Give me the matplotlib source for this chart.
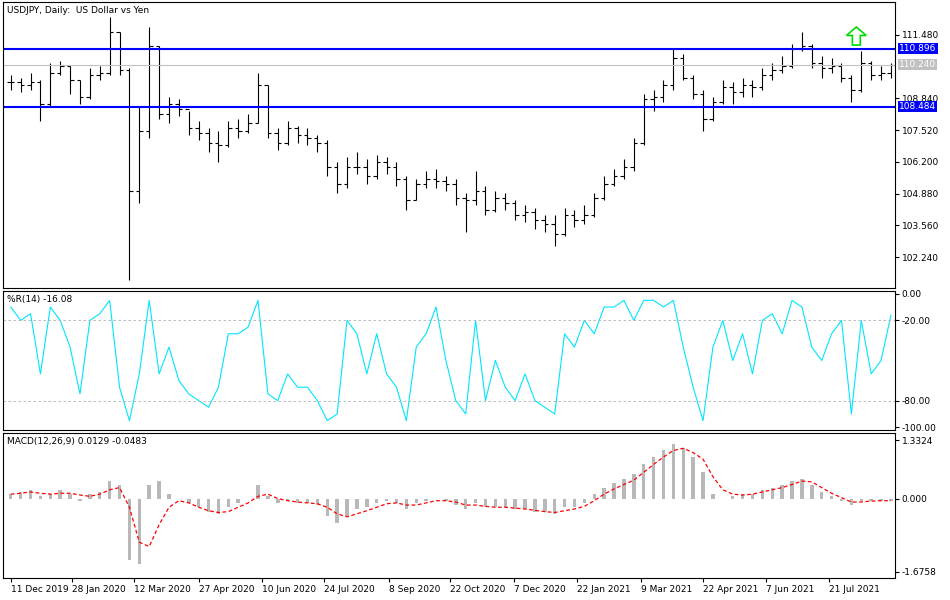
import matplotlib
matplotlib.use("Agg")
import matplotlib.pyplot as plt
from matplotlib.patches import FancyArrow

closes = [109.5,109.4,109.5,108.6,109.9,110.2,109.6,108.9,109.8,109.9,
          111.6,110.0,105.0,107.5,111.0,108.2,108.6,108.4,107.6,107.4,
          107.0,106.9,107.6,107.5,107.8,109.4,107.4,107.0,107.6,107.3,
          107.2,107.0,106.0,105.3,106.0,106.0,105.6,106.2,106.0,105.5,
          104.6,105.3,105.5,105.4,105.3,104.7,104.6,105.0,104.2,104.7,
          104.5,104.0,104.1,103.8,103.6,103.2,104.0,103.8,104.0,104.7,
          105.3,105.6,106.0,107.0,108.8,108.9,109.4,110.5,109.7,109.0,
          108.0,108.7,109.3,109.1,109.4,109.3,109.8,110.0,110.2,110.9,
          111.0,110.3,110.1,110.2,109.7,109.2,110.3,109.8,109.9,110.24]
highs = [109.8,109.7,109.9,109.6,110.3,110.4,110.2,109.6,110.1,110.2,
         112.2,111.6,110.1,108.5,111.8,111.0,108.9,108.8,108.3,107.9,
         107.6,107.5,107.9,108.0,108.2,109.9,109.4,107.6,107.9,107.7,
         107.6,107.3,107.1,106.2,106.4,106.6,106.3,106.5,106.4,106.2,
         105.6,105.5,105.8,105.9,105.6,105.5,104.9,105.8,105.2,105.0,
         104.9,104.6,104.4,104.3,104.0,104.0,104.3,104.2,104.4,104.9,
         105.6,105.9,106.3,107.2,109.0,109.2,109.6,110.9,110.7,109.8,
         109.2,108.9,109.6,109.5,109.7,109.6,110.1,110.3,110.6,111.1,
         111.6,111.1,110.6,110.5,110.3,109.8,110.8,110.4,110.2,110.3]
lows = [109.2,109.1,109.2,107.9,108.5,109.8,109.0,108.6,108.8,109.6,
        109.8,109.8,101.3,104.5,107.2,108.0,107.8,108.1,107.3,107.1,
        106.6,106.2,106.8,107.2,107.4,107.8,107.2,106.7,106.9,107.0,
        106.9,106.6,105.6,104.9,105.1,105.7,105.3,105.5,105.7,105.2,
        104.2,104.6,105.1,105.1,105.0,104.4,103.3,104.4,104.0,104.1,
        104.2,103.8,103.7,103.4,103.3,102.7,103.1,103.5,103.6,103.9,
        104.6,105.2,105.5,105.8,106.9,108.3,108.7,109.2,109.6,108.8,
        107.5,107.9,108.6,108.6,108.9,108.9,109.2,109.6,109.9,110.1,
        110.8,110.1,109.7,109.9,109.5,108.7,109.1,109.6,109.6,109.7]
wpr = [-10,-20,-15,-60,-10,-20,-40,-75,-20,-15,-5,-70,-95,-60,-5,-60,-40,-65,-75,-80,
       -85,-70,-30,-30,-25,-5,-75,-80,-60,-70,-70,-80,-95,-90,-20,-30,-60,-30,-60,-70,
       -95,-40,-30,-10,-50,-80,-90,-20,-80,-50,-70,-80,-60,-80,-85,-90,-30,-40,-20,-30,
       -10,-10,-5,-20,-5,-5,-10,-5,-40,-70,-95,-40,-20,-50,-30,-60,-20,-15,-30,-5,
       -10,-40,-50,-30,-20,-90,-20,-60,-50,-16.08]
macd_hist = [0.10,0.15,0.20,0.05,0.10,0.20,0.10,-0.05,0.10,0.15,
             0.40,0.30,-1.40,-1.50,0.30,0.40,0.10,0.00,-0.10,-0.20,
             -0.30,-0.35,-0.20,-0.10,0.00,0.30,0.05,-0.10,-0.05,-0.10,
             -0.10,-0.15,-0.40,-0.55,-0.40,-0.25,-0.20,-0.10,-0.05,-0.10,
             -0.25,-0.10,-0.05,0.00,-0.05,-0.15,-0.25,-0.10,-0.20,-0.20,
             -0.20,-0.25,-0.25,-0.30,-0.30,-0.35,-0.20,-0.20,-0.10,0.10,
             0.25,0.35,0.45,0.55,0.80,0.95,1.10,1.25,1.15,0.95,
             0.60,0.10,0.00,0.05,0.10,0.10,0.20,0.25,0.30,0.40,
             0.45,0.30,0.15,0.05,-0.05,-0.15,-0.05,-0.05,-0.05,-0.05]
macd_sig = [0.10,0.12,0.15,0.12,0.10,0.12,0.12,0.08,0.05,0.10,
            0.20,0.25,-0.20,-1.00,-1.10,-0.60,-0.20,-0.05,-0.10,-0.20,
            -0.28,-0.32,-0.30,-0.20,-0.10,0.05,0.10,0.00,-0.05,-0.08,
            -0.10,-0.12,-0.20,-0.35,-0.42,-0.35,-0.28,-0.20,-0.12,-0.10,
            -0.15,-0.15,-0.10,-0.05,-0.05,-0.08,-0.15,-0.15,-0.18,-0.20,
            -0.20,-0.22,-0.24,-0.27,-0.30,-0.32,-0.28,-0.24,-0.18,-0.05,
            0.10,0.22,0.32,0.42,0.60,0.78,0.95,1.10,1.15,1.05,
            0.90,0.50,0.20,0.10,0.08,0.10,0.15,0.20,0.25,0.32,
            0.40,0.38,0.25,0.12,0.02,-0.08,-0.08,-0.06,-0.05,-0.05]
date_labels = ["11 Dec 2019","28 Jan 2020","12 Mar 2020","27 Apr 2020","10 Jun 2020",
               "24 Jul 2020","8 Sep 2020","22 Oct 2020","7 Dec 2020","22 Jan 2021",
               "9 Mar 2021","22 Apr 2021","7 Jun 2021","21 Jul 2021"]
date_pos = [0,6.2,12.5,19,25.4,31.7,38.2,44.4,50.9,57.3,63.7,70,76.4,82.7]
levels = [110.896, 108.484]
last_price = 110.24

fig = plt.figure(figsize=(9.5, 6), dpi=100)
fs = 6.5
ax1 = fig.add_axes([0.003, 1-288/600, 0.939, 286/600])
ax2 = fig.add_axes([0.003, 1-430/600, 0.939, 139/600])
ax3 = fig.add_axes([0.003, 1-578/600, 0.939, 145/600])
xl = (-0.8, 89.4)
for ax in (ax1, ax2, ax3):
    ax.set_xlim(*xl)
    ax.yaxis.tick_right()
    ax.tick_params(labelsize=fs, length=3, pad=2)
    for s in ax.spines.values():
        s.set_color("black"); s.set_linewidth(0.8)

n = len(closes)
opens = [closes[0]] + closes[:-1]
for i in range(n):
    ax1.vlines(i, lows[i], highs[i], color="black", lw=0.8)
    ax1.hlines(opens[i], i-0.35, i, color="black", lw=0.8)
    ax1.hlines(closes[i], i, i+0.35, color="black", lw=0.8)
ax1.set_ylim(100.96, 112.84)
ax1.set_yticks([102.24,103.56,104.88,106.2,107.52,108.84,111.48])
ax1.set_yticklabels(["102.240","103.560","104.880","106.200","107.520","108.840","111.480"])
for lv in levels:
    ax1.axhline(lv, color="#0000ff", lw=1.5)
    ax1.text(1.005, lv, f"{lv:.3f}", transform=ax1.get_yaxis_transform(), fontsize=fs,
             color="white", va="center", ha="left",
             bbox=dict(boxstyle="square,pad=0.1", fc="#0000ff", ec="none"))
ax1.axhline(last_price, color="#c0c0c0", lw=0.8)
ax1.text(1.005, last_price, f"{last_price:.3f}", transform=ax1.get_yaxis_transform(), fontsize=fs,
         color="white", va="center", ha="left",
         bbox=dict(boxstyle="square,pad=0.1", fc="#c0c0c0", ec="none"))
ax1.add_patch(FancyArrow(85.5, 111.05, 0, 0.75, width=0.8, head_width=2.0, head_length=0.35,
                         fc="white", ec="#00dd00", lw=1.2, length_includes_head=True))
ax1.text(0.005, 0.985, "USDJPY, Daily:  US Dollar vs Yen", transform=ax1.transAxes,
         fontsize=fs, va="top")
ax1.set_xticks([])

ax2.plot(range(n), wpr, color="#00e5ff", lw=0.8)
for lv in (-20, -80):
    ax2.axhline(lv, color="#b0b0b0", lw=0.6, ls=(0, (3, 3)))
ax2.set_ylim(-102, 2)
ax2.set_yticks([0,-20,-80,-100])
ax2.set_yticklabels(["0.00","-20.00","-80.00","-100.00"])
ax2.text(0.005, 0.97, "%R(14) -16.08", transform=ax2.transAxes, fontsize=fs, va="top")
ax2.set_xticks([])

ax3.bar(range(n), macd_hist, width=0.35, color="#b8b8b8")
ax3.plot(range(n), macd_sig, color="red", lw=0.9, ls=(0, (3, 2)))
ax3.set_ylim(-1.82, 1.50)
ax3.set_yticks([1.3324, 0, -1.6758])
ax3.set_yticklabels(["1.3324","0.000","-1.6758"])
ax3.text(0.005, 0.97, "MACD(12,26,9) 0.0129 -0.0483", transform=ax3.transAxes, fontsize=fs, va="top")
ax3.set_xticks(date_pos)
ax3.set_xticklabels(date_labels, fontsize=fs, ha="left")
ax3.tick_params(axis="x", length=3, pad=2)

fig.savefig("out.png", dpi=100, facecolor="white")
